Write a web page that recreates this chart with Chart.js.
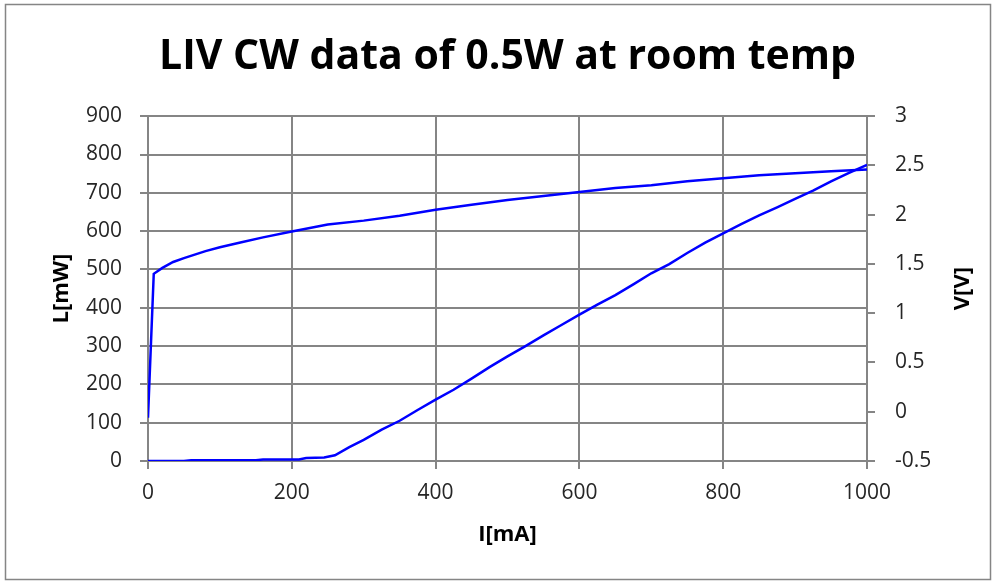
<!DOCTYPE html>
<html>
<head>
<meta charset="utf-8">
<title>LIV CW data of 0.5W at room temp</title>
<script src="https://cdn.jsdelivr.net/npm/chart.js@4.4.1/dist/chart.umd.min.js"></script>
<style>
  html, body { margin: 0; padding: 0; background: #fff; }
  #wrap { width: 998px; height: 584px; }
</style>
</head>
<body>
<div id="wrap"><canvas id="livChart" width="998" height="584"></canvas></div>
<script>
// L-I curve (optical power, left axis)
const currentL = [0, 50, 60, 150, 160, 210, 220, 245, 260, 280, 300, 325, 350, 375, 400, 425, 450, 475, 500,
  525, 550, 575, 600, 625, 650, 675, 700, 725, 750, 775, 800, 825, 850, 875, 900, 925, 950, 975, 1000];
const powerL = [0, 0, 2, 2, 4, 4, 8, 9, 15, 36, 55, 82, 105, 133, 160, 186, 215, 245, 273,
  300, 328, 355, 382, 408, 433, 461, 490, 514, 543, 570, 594, 618, 641, 662, 684, 706, 730, 752, 773];

// V-I curve (voltage, right axis)
const currentV = [0, 8, 20, 35, 50, 80, 100, 130, 160, 200, 250, 300, 350, 400, 450, 500, 550, 600,
  650, 700, 750, 800, 850, 900, 950, 1000];
const voltageV = [-0.06, 1.40, 1.46, 1.52, 1.56, 1.63, 1.67, 1.72, 1.77, 1.83, 1.90, 1.94, 1.99, 2.05,
  2.10, 2.15, 2.19, 2.23, 2.27, 2.30, 2.34, 2.37, 2.40, 2.42, 2.44, 2.46];

// tick labels
const currentTicks = [0, 200, 400, 600, 800, 1000];
const powerTicks = [0, 100, 200, 300, 400, 500, 600, 700, 800, 900];
const voltageTicks = [-0.5, 0, 0.5, 1, 1.5, 2, 2.5, 3];

const FONT = '"Open Sans", "Noto Sans", sans-serif';
const GRID = '#858585';
const TEXT = '#262626';

function setTicks(list) {
  return scale => { scale.ticks = list.map(v => ({ value: v })); };
}

const frame = {
  id: 'frame',
  beforeDraw(chart) {
    const ctx = chart.ctx;
    ctx.save();
    ctx.fillStyle = '#fff';
    ctx.fillRect(0, 0, chart.width, chart.height);
    ctx.strokeStyle = GRID;
    ctx.lineWidth = 1.5;
    ctx.strokeRect(5.5, 4.5, 985, 575);
    ctx.restore();
  },
  afterDraw(chart) {
    // right axis title reads bottom-to-top like the left one
    const { ctx, chartArea } = chart;
    ctx.save();
    ctx.translate(963, (chartArea.top + chartArea.bottom) / 2);
    ctx.rotate(-Math.PI / 2);
    ctx.font = 'bold 22px ' + FONT;
    ctx.fillStyle = '#000';
    ctx.textAlign = 'center';
    ctx.textBaseline = 'middle';
    ctx.fillText('V[V]', 0, 0);
    ctx.restore();
  }
};

new Chart(document.getElementById('livChart'), {
  type: 'line',
  data: {
    datasets: [
      {
        label: 'L[mW]',
        data: currentL.map((x, i) => ({ x: x, y: powerL[i] })),
        yAxisID: 'y',
        borderColor: '#0000ff',
        borderWidth: 2.5,
        pointRadius: 0,
        tension: 0,
        fill: false
      },
      {
        label: 'V[V]',
        data: currentV.map((x, i) => ({ x: x, y: voltageV[i] })),
        yAxisID: 'y1',
        borderColor: '#0000ff',
        borderWidth: 2.5,
        pointRadius: 0,
        tension: 0,
        fill: false
      }
    ]
  },
  options: {
    responsive: false,
    animation: false,
    devicePixelRatio: 1,
    layout: { padding: 0 },
    plugins: {
      legend: { display: false },
      tooltip: { enabled: false },
      title: {
        display: true,
        fullSize: false,
        text: 'LIV CW data of 0.5W at room temp',
        color: '#000',
        font: { family: FONT, size: 41, weight: 'bold' },
        padding: { top: 33, bottom: 34 }
      }
    },
    scales: {
      x: {
        type: 'linear',
        position: 'bottom',
        min: 0,
        max: 1000,
        afterBuildTicks: setTicks(currentTicks),
        afterFit: s => { s.height = 123; },
        grid: { color: GRID, lineWidth: 2, tickLength: 8 },
        border: { color: GRID, width: 2 },
        ticks: { color: TEXT, padding: 11, font: { family: FONT, size: 21 }, callback: v => String(v) },
        title: {
          display: true,
          text: 'I[mA]',
          color: '#000',
          font: { family: FONT, size: 22, weight: 'bold' },
          padding: { top: 0, bottom: 36 }
        }
      },
      y: {
        position: 'left',
        min: 0,
        max: 900,
        afterBuildTicks: setTicks(powerTicks),
        afterFit: s => { s.width = 148; },
        grid: { color: GRID, lineWidth: 2, tickLength: 8 },
        border: { color: GRID, width: 2 },
        ticks: { color: TEXT, padding: 18, font: { family: FONT, size: 21 }, callback: v => String(v) },
        title: {
          display: true,
          text: 'L[mW]',
          color: '#000',
          font: { family: FONT, size: 22, weight: 'bold' },
          padding: { top: 49, bottom: 0 }
        }
      },
      y1: {
        position: 'right',
        min: -0.5,
        max: 3,
        afterBuildTicks: setTicks(voltageTicks),
        afterFit: s => { s.width = 131; },
        grid: { drawOnChartArea: false, color: GRID, lineWidth: 2, tickLength: 8 },
        border: { color: GRID, width: 2 },
        ticks: { color: TEXT, padding: 20, font: { family: FONT, size: 21 }, callback: v => String(Math.round(v * 10) / 10) },
        title: { display: false }
      }
    }
  },
  plugins: [frame]
});
</script>
</body>
</html>
